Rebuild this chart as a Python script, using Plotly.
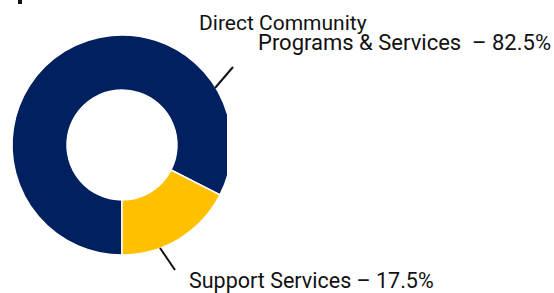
import plotly.graph_objects as go

W, H = 554, 293

labels = ["Direct Community Programs & Services", "Support Services"]
values = [82.5, 17.5]
colors = ["#002060", "#FFC000"]

label_lines = [
    ("Direct Community", 197, 23, 21),
    ("Programs & Services\u00a0 \u2013 82.5%", 256, 42, 22),
    ("Support Services \u2013 17.5%", 187, 280, 21.5),
]

def px(x):
    return x / W

def py(y):
    return (H - y) / H

cx, cy, r = 122, 145, 110

fig = go.Figure(go.Pie(
    labels=labels,
    values=values,
    hole=0.5,
    sort=False,
    direction="clockwise",
    rotation=180,
    marker=dict(colors=colors, line=dict(color="white", width=1.5)),
    textinfo="none",
    hoverinfo="skip",
    showlegend=False,
    domain=dict(x=[px(cx - r), px(cx + r)], y=[py(cy + r), py(cy - r)]),
))

shapes = [
    dict(type="rect", xref="paper", yref="paper", x0=px(227), x1=px(245),
         y0=py(90), y1=py(200), fillcolor="white", line=dict(width=0), layer="above"),
    dict(type="line", xref="paper", yref="paper", x0=px(215), y0=py(88),
         x1=px(233), y1=py(67), line=dict(color="#111111", width=2), layer="above"),
    dict(type="line", xref="paper", yref="paper", x0=px(160), y0=py(248),
         x1=px(175), y1=py(270), line=dict(color="#111111", width=2), layer="above"),
    dict(type="rect", xref="paper", yref="paper", x0=px(18), x1=px(22),
         y0=py(4), y1=py(0), fillcolor="#111111", line=dict(width=0), layer="above"),
]

annotations = [
    dict(text=t, x=px(x), y=py(y), xref="paper", yref="paper", xanchor="left",
         yanchor="middle", showarrow=False,
         font=dict(family="Roboto", size=s, color="#111111"))
    for t, x, y, s in label_lines
]

fig.update_layout(
    width=W, height=H,
    margin=dict(l=0, r=0, t=0, b=0),
    paper_bgcolor="white", plot_bgcolor="white",
    shapes=shapes, annotations=annotations,
)

fig.write_html("out.html", config={"displayModeBar": False},
               post_script="document.body.style.margin='0';")
